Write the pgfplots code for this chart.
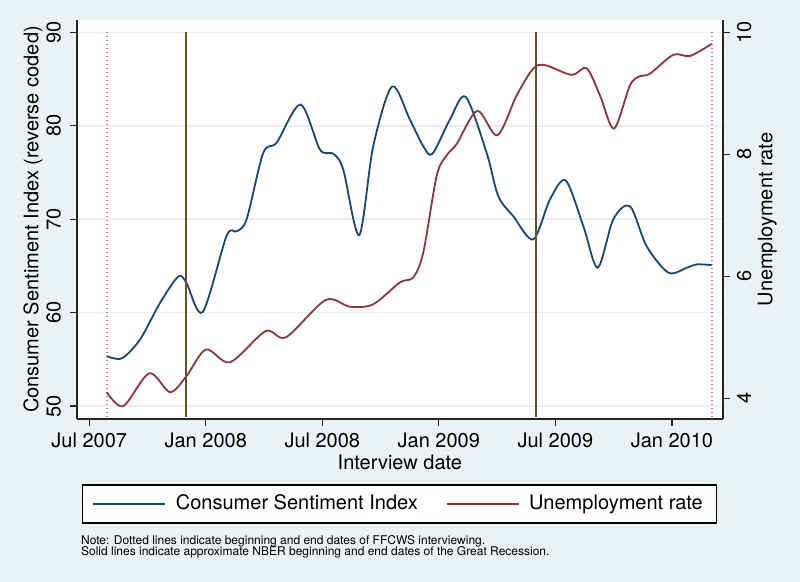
\documentclass[border=0pt]{standalone}
\usepackage{pgfplots}
\pgfplotsset{compat=1.18}
\usepackage{fontspec}
\setmainfont{TeX Gyre Heros}
\definecolor{bgc}{RGB}{234,242,243}
\definecolor{gridc}{RGB}{234,240,241}
\definecolor{csi}{RGB}{26,71,111}
\definecolor{unemp}{RGB}{144,53,59}
\definecolor{nber}{RGB}{98,80,50}
\definecolor{ffcws}{RGB}{214,110,150}
\begin{document}
\begin{tikzpicture}
\fill[bgc] (-38.4pt,-81.5pt) rectangle (361.6pt,209.5pt);
\pgfplotsset{
  commonaxis/.style={
    at={(0pt,0pt)}, anchor=south west,
    scale only axis, width=323.1pt, height=199.5pt,
    xmin=-0.64, xmax=32.63,
    axis line style={-, draw=black!85, line width=0.75pt},
    tick align=outside, major tick length=3.5pt,
    tick style={draw=black!85, line width=0.6pt},
    /pgf/number format/assume math mode=true,
    tick label style={font=\fontsize{10}{12}\selectfont},
    label style={font=\fontsize{10}{12}\selectfont},
  }
}
\begin{axis}[commonaxis, name=ax,
  ymin=48.61, ymax=91.32,
  axis x line*=bottom, axis y line*=left,
  xtick={0,6,12,18,24,30},
  xticklabels={Jul 2007,Jan 2008,Jul 2008,Jan 2009,Jul 2009,Jan 2010},
  ytick={50,60,70,80,90},
  ymajorgrids, grid style={draw=gridc, line width=0.8pt},
  axis background/.style={fill=white},
  xticklabel style={anchor=base, inner sep=0pt},
  xticklabel shift=10.75pt,
  yticklabel style={rotate=90, anchor=base, inner sep=0pt},
  yticklabel shift=4.6pt,
  xlabel={Interview date},
  every axis x label/.style={at={(axis description cs:0.5,-0.1278)}, anchor=base, inner sep=0pt},
  ylabel={Consumer Sentiment Index (reverse coded)},
  every axis y label/.style={at={(axis description cs:-0.0596,0.5)}, rotate=90, anchor=base, inner sep=0pt},
  legend columns=2,
  legend style={at={(axis description cs:0.4997,-0.213)}, anchor=center, draw=black, line width=0.6pt, fill=white,
    font=\fontsize{10}{12}\selectfont, inner xsep=5pt, inner ysep=3pt,
    /tikz/every odd column/.append style={column sep=2.8pt},
    /tikz/every even column/.append style={column sep=12pt}},
  legend image code/.code={\draw[#1] (0pt,0pt) -- (36pt,0pt);},
]
\addplot[ffcws, line width=0.8pt, dash pattern=on 0.6pt off 1.4pt, forget plot] coordinates {(0.9,48.82) (0.9,90)};
\addplot[ffcws, line width=0.8pt, dash pattern=on 0.6pt off 1.4pt, forget plot] coordinates {(32.05,48.82) (32.05,90)};
\addplot[csi, line width=0.9pt, smooth, tension=0.5] coordinates {
(0.90,55.35) (1.67,55.1) (2.61,57.1) (3.65,61.06) (4.58,63.84) (5.0,63.2) (5.84,60.05)
(7.07,68.2) (7.59,68.7) (8.1,69.97) (8.96,77.1) (9.65,78.2) (10.88,82.27) (11.88,77.45)
(12.57,77.0) (13.08,75.3) (13.90,68.29) (14.62,77.8) (15.59,84.2) (16.51,80.66) (17.2,77.8)
(17.67,77.0) (18.57,80.66) (19.38,83.09) (20.46,77.1) (21.06,72.46) (21.83,70.32)
(22.86,67.83) (23.72,72.1) (24.53,74.14) (25.44,69.25) (26.18,64.8) (26.98,69.97)
(27.84,71.39) (28.7,67.1) (29.82,64.27) (30.76,64.8) (31.28,65.16) (32.05,65.08)
};
\addlegendentry{Consumer Sentiment Index}
\addlegendimage{unemp, line width=0.9pt}
\addlegendentry{Unemployment rate}
\end{axis}
\begin{axis}[commonaxis,
  ymin=3.66, ymax=10.20,
  axis x line=none, axis y line*=right,
  ytick={4,6,8,10},
  yticklabel style={rotate=90, anchor=base, inner sep=0pt},
  yticklabel shift=10.5pt,
  ylabel={Unemployment rate},
  every axis y label/.style={at={(axis description cs:1.0763,0.5)}, rotate=90, anchor=base, inner sep=0pt},
]
\addplot[unemp, line width=0.9pt, smooth, tension=0.5] coordinates {
(0.9,4.10) (1.75,3.87) (3.09,4.41) (4.16,4.10) (5.0,4.36) (6.01,4.80) (7.25,4.59)
(9.08,5.10) (10.13,5.00) (12.17,5.61) (13.42,5.50) (14.62,5.54) (16.0,5.90) (16.68,5.98)
(17.2,6.39) (17.89,7.65) (18.40,7.98) (18.92,8.17) (19.98,8.71) (21.01,8.31) (22.0,8.96)
(22.85,9.40) (23.47,9.46) (24.84,9.30) (25.61,9.41) (26.3,8.96) (27.02,8.42) (27.84,9.13)
(28.36,9.28) (28.87,9.32) (30.07,9.63) (30.93,9.61) (32.05,9.81)
};
\addplot[nber, line width=1pt, forget plot] coordinates {(5,3.692) (5,10.0)};
\addplot[nber, line width=1pt, forget plot] coordinates {(23,3.692) (23,10.0)};
\end{axis}
\node[anchor=north west, align=left, inner sep=0pt, font=\fontsize{6}{5.85}\selectfont] at (1.95pt,-57.9pt)
  {Note: Dotted lines indicate beginning and end dates of FFCWS interviewing.\\Solid lines indicate approximate NBER beginning and end dates of the Great Recession.};
\pgfresetboundingbox
\path[use as bounding box] (-38.4pt,-81.5pt) rectangle (361.6pt,209.5pt);
\end{tikzpicture}
\end{document}
